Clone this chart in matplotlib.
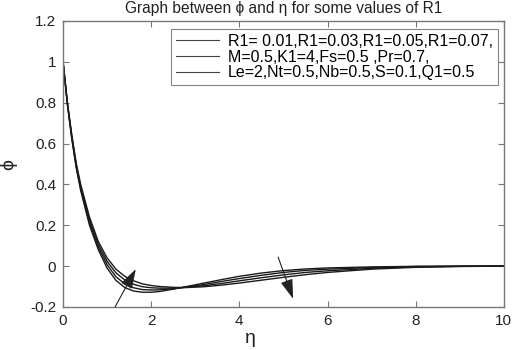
import matplotlib
matplotlib.use("Agg")
import matplotlib.pyplot as plt

plt.rcParams['font.family'] = ['Liberation Sans', 'DejaVu Sans']

# values
eta = [0, 0.1, 0.2, 0.3, 0.4, 0.6, 0.8, 1.0, 1.2, 1.4, 1.6, 1.8, 2.0, 2.2, 2.5,
       2.8, 3.2, 3.6, 4.0, 4.5, 5.0, 5.5, 6.0, 7.0, 8.0, 9.0, 10.0]

phi_r1_001 = [1.0, 0.79, 0.62, 0.48, 0.37, 0.20, 0.08, -0.01, -0.07, -0.105, -0.122, -0.128, -0.128,
              -0.124, -0.113, -0.100, -0.083, -0.066, -0.050, -0.034, -0.022, -0.014, -0.009,
              -0.004, -0.001, 0.0, 0.0]
phi_r1_003 = [1.0, 0.792, 0.627, 0.487, 0.38, 0.213, 0.093, 0.007, -0.052, -0.087, -0.106, -0.115, -0.117,
              -0.116, -0.111, -0.103, -0.090, -0.075, -0.061, -0.045, -0.031, -0.021, -0.015,
              -0.007, -0.002, -0.001, 0.0]
phi_r1_005 = [1.0, 0.795, 0.633, 0.495, 0.39, 0.227, 0.107, 0.023, -0.033, -0.068, -0.089, -0.101, -0.106,
              -0.108, -0.108, -0.104, -0.096, -0.085, -0.072, -0.057, -0.043, -0.031, -0.023,
              -0.011, -0.004, -0.001, 0.0]
phi_r1_007 = [1.0, 0.798, 0.64, 0.503, 0.40, 0.24, 0.12, 0.04, -0.015, -0.05, -0.072, -0.087, -0.095,
              -0.100, -0.104, -0.105, -0.101, -0.093, -0.083, -0.069, -0.055, -0.042, -0.031,
              -0.015, -0.006, -0.002, 0.0]

labels = ['R1= 0.01,R1=0.03,R1=0.05,R1=0.07,',
          'M=0.5,K1=4,Fs=0.5 ,Pr=0.7,',
          'Le=2,Nt=0.5,Nb=0.5,S=0.1,Q1=0.5']

yticks = [-0.2, 0, 0.2, 0.4, 0.6, 0.8, 1, 1.2]
ytick_labels = ['-0.2', '0', '0.2', '0.4', '0.6', '0.8', '1', '1.2']
xticks = [0, 2, 4, 6, 8, 10]

fig = plt.figure(figsize=(5.21, 3.5), dpi=100)
ax = fig.add_axes([0.121, 0.123, 0.846, 0.817])

curves = [phi_r1_001, phi_r1_003, phi_r1_005, phi_r1_007]
for i, phi in enumerate(curves):
    lab = labels[i] if i < len(labels) else None
    ax.plot(eta, phi, color='#1a1a1a', lw=1.0, label=lab)

# arrows showing the effect of increasing R1
arrow_props = dict(arrowstyle='-|>,head_length=1.2,head_width=0.38',
                   color='#222222', lw=0.8, shrinkA=0, shrinkB=0)
ax.annotate('', xy=(1.65, -0.015), xytext=(1.18, -0.2), arrowprops=arrow_props)
ax.annotate('', xy=(5.22, -0.16), xytext=(4.88, 0.044), arrowprops=arrow_props)

ax.set_xlim(0, 10)
ax.set_ylim(-0.2, 1.2)
ax.set_xticks(xticks)
ax.set_xticklabels([str(t) for t in xticks])
ax.set_yticks(yticks)
ax.set_yticklabels(ytick_labels)
ax.tick_params(direction='in', top=True, right=True, length=4, width=0.8,
               color='#777777', labelsize=11, labelcolor='#222222', pad=5)
for s in ax.spines.values():
    s.set_color('#777777')
    s.set_linewidth(1.0)

ax.set_title('Graph between ϕ and η for some values of R1', fontsize=11.2,
             color='#222222', pad=6)
ax.set_xlabel('η', fontsize=14, color='#222222')
ax.xaxis.set_label_coords(0.424, -0.082)
ax.set_ylabel('ϕ', fontsize=14, color='#222222')
ax.yaxis.set_label_coords(-0.105, 0.497)

leg = ax.legend(loc='upper right', bbox_to_anchor=(0.986, 0.972), fontsize=11.5,
                frameon=True, fancybox=False, edgecolor='#666666',
                handlelength=2.7, handletextpad=0.55, borderpad=0.3,
                labelspacing=0.05, borderaxespad=0)
leg.get_frame().set_linewidth(0.8)
for line in leg.get_lines():
    line.set_color('#444444')
    line.set_linewidth(0.8)

fig.savefig('out.png', dpi=100)
